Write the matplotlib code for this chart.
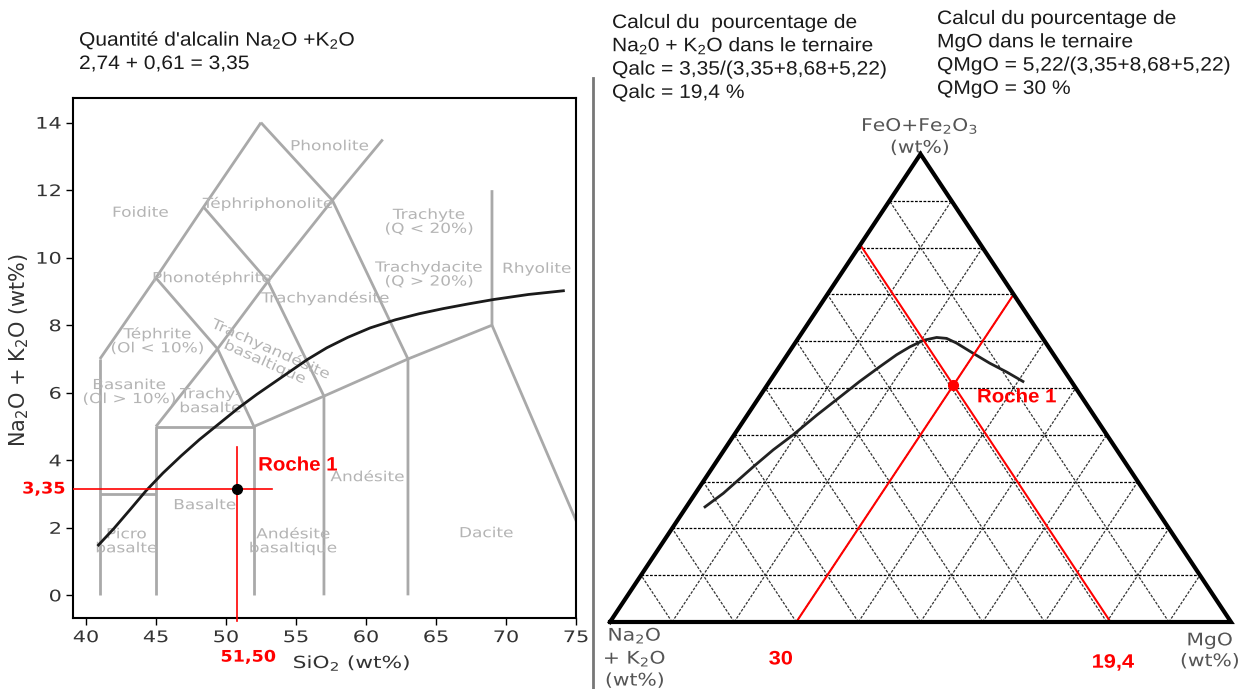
import numpy as np
import matplotlib
matplotlib.use("Agg")
import matplotlib.pyplot as plt
from matplotlib.lines import Line2D
from matplotlib.patheffects import AbstractPathEffect
from matplotlib.transforms import Affine2D

plt.rcParams['mathtext.fontset'] = 'custom'
plt.rcParams['mathtext.rm'] = 'Liberation Sans'
plt.rcParams['mathtext.it'] = 'Liberation Sans:italic'
plt.rcParams['mathtext.bf'] = 'Liberation Sans:bold'

W, H = 1243, 689

# ---------------- TAS data ----------------
tas_b1 = [(41, 0), (41, 7)]
tas_b2 = [(41, 7), (45, 9.4), (48.4, 11.5), (52.5, 14)]
tas_b3 = [(52.5, 14), (57.6, 11.7), (63, 7), (63, 0)]
tas_b4 = [(57.6, 11.7), (61.2, 13.5)]
tas_b5 = [(45, 0), (45, 5), (52, 5), (52, 0)]
tas_b6 = [(41, 3), (45, 3)]
tas_b7 = [(45, 5), (49.4, 7.3), (53, 9.3), (57.6, 11.7)]
tas_b8 = [(45, 9.4), (49.4, 7.3), (52, 5)]
tas_b9 = [(48.4, 11.5), (53, 9.3), (57, 5.9), (57, 0)]
tas_b10 = [(52, 5), (57, 5.9), (63, 7), (69, 8), (69, 12)]
tas_b11 = [(69, 8), (77.3, 0)]
tas_boundaries = [tas_b1, tas_b2, tas_b3, tas_b4, tas_b5, tas_b6,
                  tas_b7, tas_b8, tas_b9, tas_b10, tas_b11]

tas_names = ["Phonolite", "Foidite", "Téphriphonolite", "Trachyte\n(Q < 20%)",
             "Phonotéphrite", "Trachydacite\n(Q > 20%)", "Rhyolite", "Trachyandésite",
             "Téphrite\n(Ol < 10%)", "Trachyandésite\nbasaltique", "Basanite\n(Ol > 10%)",
             "Trachy-\nbasalte", "Basalte", "Andésite", "Picro\nbasalte",
             "Andésite\nbasaltique", "Dacite"]
tas_name_x = [57.4, 43.9, 53.0, 64.5, 49.0, 64.5, 72.2, 57.1, 45.1, 53.0, 43.1,
              48.9, 48.5, 60.1, 42.9, 54.8, 68.6]
tas_name_y = [13.3, 11.33, 11.6, 11.06, 9.4, 9.5, 9.67, 8.8, 7.53, 7.1, 6.02,
              5.75, 2.67, 3.5, 1.6, 1.6, 1.84]
tas_name_rot = [0, 0, 0, 0, 0, 0, 0, 0, 0, -24, 0, 0, 0, 0, 0, 0, 0]

ib_sio2 = [40.9, 42.0, 43.2, 44.3, 45.5, 46.8, 48.1, 49.5, 50.9, 52.2, 53.6,
           55.8, 57.2, 58.7, 60.3, 62.1, 63.8, 65.5, 67.3, 69.1, 71.6, 74.1]
ib_alk = [1.49, 1.98, 2.56, 3.1, 3.62, 4.13, 4.61, 5.08, 5.55, 5.95, 6.35,
          6.98, 7.33, 7.64, 7.92, 8.16, 8.34, 8.49, 8.63, 8.76, 8.91, 9.02]

rock_sio2 = 50.8
rock_alk = 3.15
rock_sio2_label = "51,50"
rock_alk_label = "3,35"

x_ticks = [40, 45, 50, 55, 60, 65, 70, 75]
y_ticks = [0, 2, 4, 6, 8, 10, 12, 14]

# ---------------- AFM data (percent) ----------------
afm_A = [72.4, 68.0, 60.3, 55.3, 50.5, 44.6, 38.9, 34.1, 29.2, 25.3, 22.3, 19.4,
         17.0, 15.5, 14.4, 12.8, 11.2, 9.4, 7.8]
afm_F = [24.6, 27.5, 33.2, 36.8, 40.0, 44.2, 48.1, 51.4, 54.6, 57.1, 58.8, 60.2,
         60.8, 60.6, 59.6, 57.4, 55.3, 53.4, 51.4]
afm_M = [3.0, 4.5, 6.5, 7.9, 9.5, 11.2, 13.0, 14.5, 16.2, 17.6, 18.9, 20.4,
         22.2, 23.9, 26.0, 29.8, 33.5, 37.2, 40.8]
grid_levels = [10, 20, 30, 40, 50, 60, 70, 80, 90]
q_alc = 19.4
q_mgo = 30.0


class HStretch(AbstractPathEffect):
    """Widen text glyphs horizontally around an anchor (the reference is stretched)."""

    def __init__(self, sx, anchor="center"):
        super().__init__()
        self.sx = sx
        self.anchor = anchor

    def draw_path(self, renderer, gc, tpath, affine, rgbFace=None):
        ext = tpath.get_extents()
        if self.anchor == "left":
            cx = 0.0
        elif self.anchor == "right":
            cx = ext.x1
        else:
            cx = 0.5 * (ext.x0 + ext.x1)
        t = Affine2D().translate(-cx, 0).scale(self.sx, 1).translate(cx, 0)
        renderer.draw_path(gc, tpath, t + affine, rgbFace)


fig = plt.figure(figsize=(W / 100, H / 100), dpi=100)

# ---------------- TAS axes ----------------
ax = fig.add_axes([73.3 / W, 1 - 618.3 / H, (576 - 73.3) / W, (618.3 - 98.3) / H])
for seg in tas_boundaries:
    xs, ys = zip(*seg)
    ax.plot(xs, ys, color="#a9a9a9", lw=2, solid_capstyle="butt", zorder=1)
for name, x, y, r in zip(tas_names, tas_name_x, tas_name_y, tas_name_rot):
    ax.text(x, y, name, color="#b4b4b4", fontsize=10, ha="center", va="center",
            rotation=r, linespacing=1.0, zorder=2,
            path_effects=[HStretch(1.22)])
ax.plot(ib_sio2, ib_alk, color="#1a1a1a", lw=2, zorder=3)

ax.set_xlim(39.1, 75)
ax.set_ylim(-0.68, 14.72)
ax.plot([39.1, 53.3], [rock_alk, rock_alk], color="red", lw=1.2, zorder=4)
ax.plot([rock_sio2, rock_sio2], [-0.75, 4.39], color="red", lw=1.2, zorder=4, clip_on=False)
ax.plot([rock_sio2], [rock_alk], "o", color="black", ms=7, zorder=5)
ax.text(52.3, 3.83, "Roche 1", color="red", fontsize=14, fontweight="bold",
        family="Liberation Sans", ha="left", va="center",
        path_effects=[HStretch(1.05, "left")])
ax.text(37.0, rock_alk, rock_alk_label, color="red", fontsize=11.5, fontweight="bold",
        ha="center", va="center", clip_on=False, path_effects=[HStretch(1.1)])
ax.text(51.6, -1.83, rock_sio2_label, color="red", fontsize=11.5, fontweight="bold",
        ha="center", va="center", clip_on=False, path_effects=[HStretch(1.1)])

ax.set_xticks(x_ticks)
ax.set_yticks(y_ticks)
ax.tick_params(labelsize=11.5, labelcolor="#333333", length=5, width=1)
for s in ax.spines.values():
    s.set_linewidth(1.5)
ax.set_xlabel("SiO$_2$ (wt%)", fontsize=12, color="#333333", math_fontfamily="dejavusans")
ax.set_ylabel("Na$_2$O + K$_2$O (wt%)", fontsize=15, color="#333333",
              math_fontfamily="dejavusans")
ax.xaxis.set_label_coords(0.554, -0.085)
ax.yaxis.set_label_coords(-0.108, 0.516)
ax.xaxis.label.set_va("center")
ax.yaxis.label.set_va("center")
ax.xaxis.label.set_path_effects([HStretch(1.3)])

# ---------------- separator ----------------
fig.add_artist(Line2D([593 / W, 593 / W], [1 - 78 / H, 0], transform=fig.transFigure,
                      color="#777777", lw=2))

# ---------------- Ternary axes ----------------
tx = fig.add_axes([610 / W, 1 - 622 / H, 621 / W, 468 / H])
tx.set_xlim(0, 1)
tx.set_ylim(0, 1)
tx.axis("off")


def tern(a, f, m):
    a = np.asarray(a, float); f = np.asarray(f, float); m = np.asarray(m, float)
    s = a + f + m
    return (m + f / 2) / s, f / s


for g in grid_levels:
    x, y = tern([100 - g, 0], [g, g], [0, 100 - g])
    tx.plot(x, y, color="black", lw=0.9, ls=(0, (2.2, 1.2)), zorder=1)
    x, y = tern([100 - g, 0], [0, 100 - g], [g, g])
    tx.plot(x, y, color="#333333", lw=0.9, ls=(0, (2.2, 1.2)), zorder=1)
    x, y = tern([g, g], [0, 100 - g], [100 - g, 0])
    tx.plot(x, y, color="#333333", lw=0.9, ls=(0, (2.2, 1.2)), zorder=1)

x, y = tern([100, 0, 0, 100], [0, 100, 0, 0], [0, 0, 100, 0])
tx.plot(x, y, color="black", lw=3, clip_on=False, solid_joinstyle="miter", zorder=4)

x, y = tern(afm_A, afm_F, afm_M)
tx.plot(x, y, color="#222222", lw=2, zorder=3, solid_joinstyle="round")

x, y = tern([100 - q_mgo, 0], [0, 100 - q_mgo], [q_mgo, q_mgo])
tx.plot(x, y, color="red", lw=1.5, zorder=3)
x, y = tern([q_alc, q_alc], [0, 100 - q_alc], [100 - q_alc, 0])
tx.plot(x, y, color="red", lw=1.5, zorder=3)
x, y = tern([q_alc], [100 - q_alc - q_mgo], [q_mgo])
tx.plot(x, y, "o", color="red", ms=7, zorder=5)
tx.text(0.591, 0.479, "Roche 1", color="red", fontsize=14, fontweight="bold",
        family="Liberation Sans", ha="left", va="center",
        path_effects=[HStretch(1.05, "left")])
tx.text(0.275, -0.081, "30", color="red", fontsize=14, fontweight="bold",
        family="Liberation Sans", ha="center", va="center", clip_on=False,
        path_effects=[HStretch(1.12)])
tx.text(0.81, -0.088, "19,4", color="red", fontsize=14, fontweight="bold",
        family="Liberation Sans", ha="center", va="center", clip_on=False,
        path_effects=[HStretch(1.12)])

tern_pe = [HStretch(1.17)]
tx.text(0.040, -0.008, "Na$_2$O\n+ K$_2$O\n(wt%)", color="#555555", fontsize=12.5,
        ha="center", va="top", linespacing=1.2, math_fontfamily="dejavusans",
        clip_on=False, path_effects=tern_pe)
tx.text(0.966, -0.02, "MgO\n(wt%)", color="#555555", fontsize=12.5,
        ha="center", va="top", linespacing=1.2, clip_on=False, path_effects=tern_pe)
tx.text(0.499, 0.994, "FeO+Fe$_2$O$_3$\n(wt%)", color="#555555", fontsize=12.5,
        ha="center", va="bottom", linespacing=1.2, math_fontfamily="dejavusans",
        clip_on=False, path_effects=tern_pe)


# ---------------- top annotations ----------------
def ftext(x, ybase, s):
    fig.text(x / W, 1 - ybase / H, s, fontsize=14, family="Liberation Sans",
             color="#1a1a1a", ha="left", va="baseline",
             path_effects=[HStretch(1.08, "left")])


ftext(79, 45.7, "Quantité d'alcalin Na$_2$O +K$_2$O")
ftext(79, 69, "2,74 + 0,61 = 3,35")
block1 = ["Calcul du  pourcentage de", "Na$_2$0 + K$_2$O dans le ternaire",
          "Qalc = 3,35/(3,35+8,68+5,22)", "Qalc = 19,4 %"]
block2 = ["Calcul du pourcentage de", "MgO dans le ternaire",
          "QMgO = 5,22/(3,35+8,68+5,22)", "QMgO = 30 %"]
for i, s in enumerate(block1):
    ftext(612, 28 + 23.3 * i, s)
for i, s in enumerate(block2):
    ftext(937, 24 + 23.3 * i, s)

fig.canvas.draw()
for lbl in ax.get_xticklabels():
    lbl.set_path_effects([HStretch(1.3)])
for lbl in ax.get_yticklabels():
    lbl.set_path_effects([HStretch(1.3, "right")])

fig.savefig("out.png", dpi=100)
